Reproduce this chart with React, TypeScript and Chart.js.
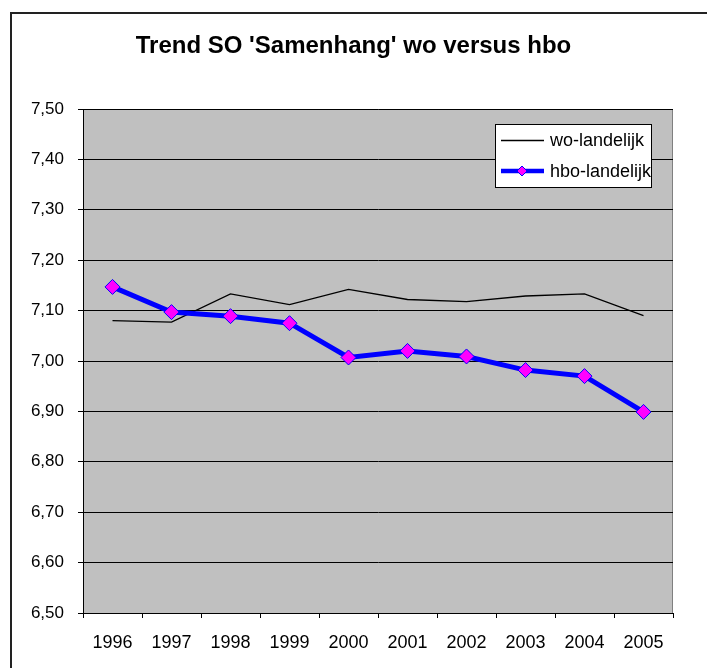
import React, { useEffect, useRef } from "react";
import { Chart, registerables } from "chart.js";

Chart.register(...registerables);

const years = ["1996", "1997", "1998", "1999", "2000", "2001", "2002", "2003", "2004", "2005"];
const woLandelijk = [7.08, 7.077, 7.133, 7.112, 7.142, 7.122, 7.118, 7.129, 7.133, 7.09];
const hboLandelijk = [7.147, 7.097, 7.089, 7.075, 7.007, 7.02, 7.009, 6.982, 6.97, 6.899];
const titleText = "Trend SO 'Samenhang' wo versus hbo";
const legendLabels = ["wo-landelijk", "hbo-landelijk"];

const FONT = "'Liberation Sans', Arial, sans-serif";

const decorPlugin = {
  id: "decor",
  beforeDatasetsDraw(chart: any) {},
  beforeDraw(chart: any) {
    const { ctx, chartArea: a } = chart;
    ctx.save();
    ctx.fillStyle = "#C0C0C0";
    ctx.fillRect(a.left, a.top, a.right - a.left, a.bottom - a.top);
    ctx.strokeStyle = "#808080";
    ctx.lineWidth = 1;
    ctx.strokeRect(a.left + 0.5, a.top + 0.5, a.right - a.left - 1, a.bottom - a.top);
    ctx.restore();
  },
  afterDraw(chart: any) {
    const { ctx } = chart;
    ctx.save();
    // title
    ctx.fillStyle = "#000";
    ctx.font = `bold 24px ${FONT}`;
    ctx.textAlign = "center";
    ctx.textBaseline = "alphabetic";
    ctx.fillText(titleText, 353.5, 53);
    // legend box
    ctx.fillStyle = "#fff";
    ctx.fillRect(495.5, 124.5, 156, 63);
    ctx.strokeStyle = "#000";
    ctx.lineWidth = 1;
    ctx.strokeRect(495.5, 124.5, 156, 63);
    // wo sample
    ctx.beginPath();
    ctx.moveTo(501, 140.5);
    ctx.lineTo(544, 140.5);
    ctx.strokeStyle = "#000";
    ctx.lineWidth = 1.3;
    ctx.stroke();
    // hbo sample
    ctx.beginPath();
    ctx.moveTo(501, 171);
    ctx.lineTo(544, 171);
    ctx.strokeStyle = "#0000FF";
    ctx.lineWidth = 4.5;
    ctx.stroke();
    ctx.beginPath();
    const cx = 522, cy = 171, r = 5;
    ctx.moveTo(cx, cy - r);
    ctx.lineTo(cx + r, cy);
    ctx.lineTo(cx, cy + r);
    ctx.lineTo(cx - r, cy);
    ctx.closePath();
    ctx.fillStyle = "#FF00FF";
    ctx.fill();
    ctx.strokeStyle = "#0000FF";
    ctx.lineWidth = 1;
    ctx.stroke();
    // legend text
    ctx.fillStyle = "#000";
    ctx.font = `18px ${FONT}`;
    ctx.textAlign = "left";
    ctx.textBaseline = "middle";
    ctx.fillText(legendLabels[0], 550, 141);
    ctx.fillText(legendLabels[1], 550, 172);
    ctx.restore();
  },
};

export default function App() {
  const ref = useRef<HTMLCanvasElement | null>(null);
  useEffect(() => {
    if (!ref.current) return;
    const chart = new Chart(ref.current, {
      type: "line",
      data: {
        labels: years,
        datasets: [
          {
            label: legendLabels[0],
            data: woLandelijk,
            borderColor: "#000000",
            borderWidth: 1.3,
            pointRadius: 0,
            tension: 0,
            order: 1,
          },
          {
            label: legendLabels[1],
            data: hboLandelijk,
            borderColor: "#0000FF",
            borderWidth: 5,
            pointStyle: "rectRot",
            pointRadius: 7.5,
            pointBackgroundColor: "#FF00FF",
            pointBorderColor: "#0000FF",
            pointBorderWidth: 1,
            tension: 0,
            order: 0,
          },
        ],
      },
      options: {
        responsive: false,
        animation: false,
        events: [],
        layout: { padding: { top: 109, right: 34, left: 0, bottom: 0 } },
        plugins: {
          legend: { display: false },
          title: { display: false },
          tooltip: { enabled: false },
        },
        scales: {
          x: {
            type: "category",
            offset: true,
            grid: {
              offset: true,
              drawOnChartArea: false,
              drawTicks: true,
              tickLength: 5,
              color: "#000",
            },
            border: { color: "#000", width: 1 },
            ticks: {
              autoSkip: false,
              maxRotation: 0,
              color: "#000",
              padding: 14,
              font: { family: FONT, size: 18 },
            },
            afterFit(scale: any) {
              scale.height = 55;
            },
          },
          y: {
            min: 6.5,
            max: 7.5,
            grid: {
              color: "#000",
              tickLength: 5,
              lineWidth: 1,
            },
            border: { color: "#000", width: 1 },
            ticks: {
              stepSize: 0.1,
              color: "#000",
              padding: 14,
              font: { family: FONT, size: 17 },
              callback: (v: any) => Number(v).toFixed(2).replace(".", ","),
            },
            afterFit(scale: any) {
              scale.width = 83;
            },
          },
        },
      },
      plugins: [decorPlugin],
    });
    return () => chart.destroy();
  }, []);

  return (
    <>
      <div
        style={{
          position: "absolute",
          left: 10,
          top: 12,
          width: 697,
          height: 656,
          borderLeft: "2px solid #222",
          borderTop: "2px solid #222",
          boxSizing: "border-box",
        }}
      />
      <div style={{ position: "absolute", left: 0, top: 0, width: 707, height: 668 }}>
        <canvas ref={ref} width={707} height={668} style={{ display: "block" }} />
      </div>
    </>
  );
}
